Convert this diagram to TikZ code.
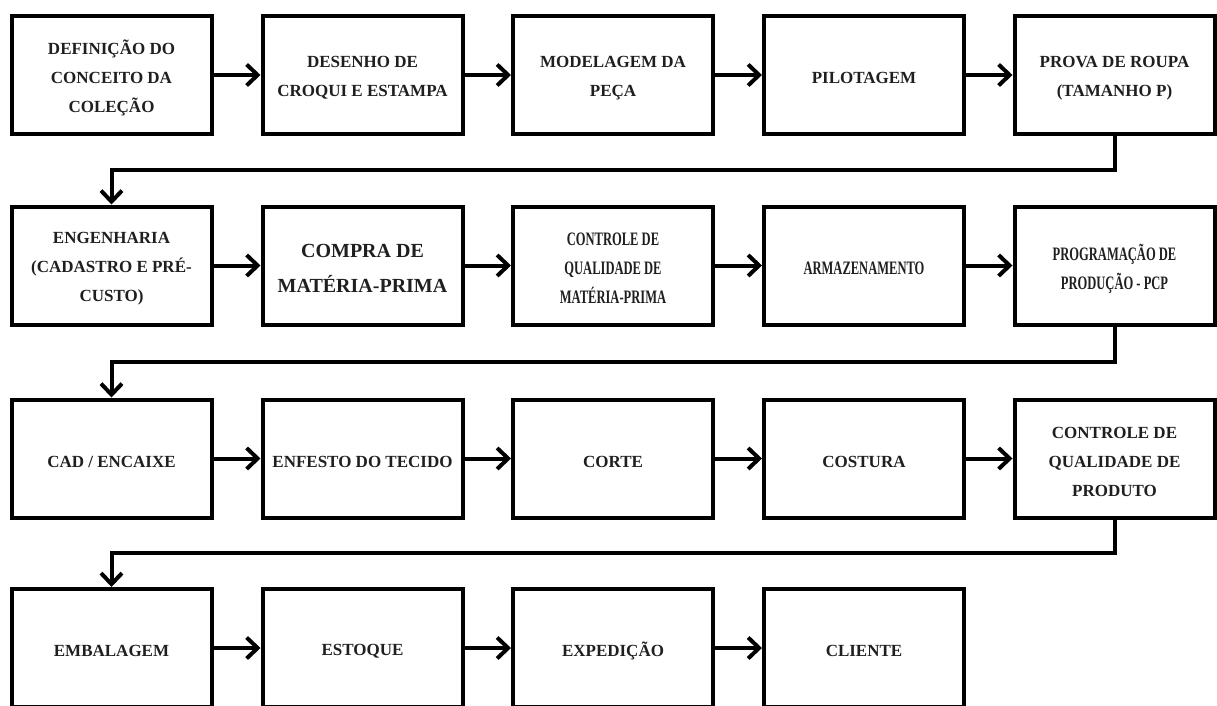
\documentclass[tikz,border=0pt]{standalone}
\usepackage{fontspec}
\setmainfont{Liberation Serif}
\newfontfamily\narrowserif[FakeStretch=0.66]{Liberation Serif}
\usetikzlibrary{arrows.meta}
% a framed step: an empty frame node and its caption node, set a little low
\newcommand\flowstep[4][steptext]{%
  \node[frame] (#2) at (#3) {};
  \node[#1] (#2t) at ([yshift=-3pt]#2.center) {#4};}
\begin{document}
\begin{tikzpicture}[x=1pt,y=-1pt,
  frame/.style={draw=black, line width=4pt, minimum width=200pt,
    minimum height=118pt, inner sep=0pt},
  steptext/.style={inner sep=0pt, align=center, text=black!88,
    font=\fontsize{17}{29}\selectfont\bfseries},
  narrowtext/.style={steptext, font=\narrowserif\fontsize{19}{29}\selectfont\bfseries},
  bigtext/.style={steptext, font=\fontsize{20}{35}\selectfont\bfseries},
  flow/.style={line width=4pt, -{Straight Barb[length=11pt,width=21pt]}},
]
\useasboundingbox (0,0) rectangle (1217,706);
\clip (0,0) rectangle (1217,706);

% first row: design
\flowstep{a1}{111.5,75}{DEFINIÇÃO DO\\CONCEITO DA\\COLEÇÃO}
\flowstep{a2}{362.5,75}{DESENHO DE\\CROQUI E ESTAMPA}
\flowstep{a3}{613,75}{MODELAGEM DA\\PEÇA}
\flowstep{a4}{864,75}{PILOTAGEM}
\flowstep{a5}{1114.5,75}{PROVA DE ROUPA\\(TAMANHO P)}

% second row: planning and materials
\flowstep{b1}{111.5,265.5}{ENGENHARIA\\(CADASTRO E PRÉ-\\CUSTO)}
\flowstep[bigtext]{b2}{362.5,265.5}{COMPRA DE\\MATÉRIA-PRIMA}
\flowstep[narrowtext]{b3}{613,265.5}{CONTROLE DE\\QUALIDADE DE\\MATÉRIA-PRIMA}
\flowstep[narrowtext]{b4}{864,265.5}{ARMAZENAMENTO}
\flowstep[narrowtext]{b5}{1114.5,265.5}{PROGRAMAÇÃO DE\\PRODUÇÃO - PCP}

% third row: production
\flowstep{c1}{111.5,458.5}{CAD / ENCAIXE}
\flowstep{c2}{362.5,458.5}{ENFESTO DO TECIDO}
\flowstep{c3}{613,458.5}{CORTE}
\flowstep{c4}{864,458.5}{COSTURA}
\flowstep{c5}{1114.5,458.5}{CONTROLE DE\\QUALIDADE DE\\PRODUTO}

% fourth row: delivery
\flowstep{d1}{111.5,648}{EMBALAGEM}
\flowstep{d2}{362.5,648}{ESTOQUE}
\flowstep{d3}{613,648}{EXPEDIÇÃO}
\flowstep{d4}{864,648}{CLIENTE}

% arrows along each row
\foreach \r in {a,b,c}{
  \draw[flow] (\r1.east) -- (\r2.west);
  \draw[flow] (\r2.east) -- (\r3.west);
  \draw[flow] (\r3.east) -- (\r4.west);
  \draw[flow] (\r4.east) -- (\r5.west);
}
\draw[flow] (d1.east) -- (d2.west);
\draw[flow] (d2.east) -- (d3.west);
\draw[flow] (d3.east) -- (d4.west);

% return arrows to the start of the next row
\draw[flow] (a5.south) -- ++(0,34) -| (b1.north);
\draw[flow] (b5.south) -- ++(0,35) -| (c1.north);
\draw[flow] (c5.south) -- ++(0,33) -| (d1.north);
\end{tikzpicture}
\end{document}
